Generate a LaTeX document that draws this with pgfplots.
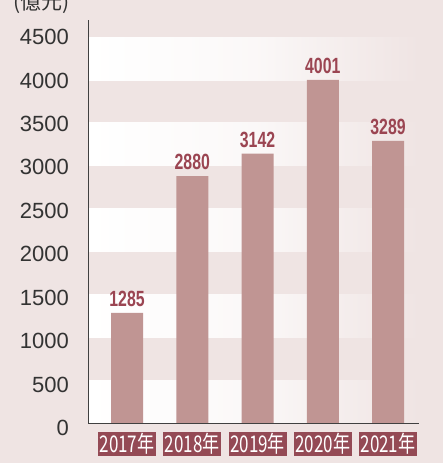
\documentclass[border=0pt]{standalone}
\usepackage{graphicx}
\usepackage{pgfplots}
\pgfplotsset{compat=1.18}
\usepackage{fontspec}
\setmainfont{Liberation Sans}
\newfontfamily\cjk{Noto Sans CJK TC}
\definecolor{bg}{HTML}{EFE4E3}
\definecolor{barc}{HTML}{C09593}
\definecolor{boxc}{HTML}{944A55}
\definecolor{valc}{HTML}{9B4552}
\definecolor{tickc}{HTML}{333333}
\begin{document}
\begin{tikzpicture}[x=1pt,y=1pt]
\fill[bg] (0,0) rectangle (443,463);
\useasboundingbox (0,0) rectangle (443,463);
\node[anchor=base west, font=\cjk\fontsize{21}{21}\selectfont, text=tickc, inner sep=0pt] at (13,453) {(億元)};
\begin{axis}[
  at={(88pt,40pt)}, anchor=south west,
  scale only axis, width=331pt, height=403pt,
  xmin=-0.598, xmax=4.475, ymin=0, ymax=4700,
  axis lines=left, axis line style={-, draw=black!75, line width=0.8pt},
  axis on top,
  ytick={0,500,1000,1500,2000,2500,3000,3500,4000,4500},
  xtick={0,1,2,3,4},
  xticklabels={\scalebox{0.74}[1]{2017年},\scalebox{0.74}[1]{2018年},\scalebox{0.74}[1]{2019年},\scalebox{0.74}[1]{2020年},\scalebox{0.74}[1]{2021年}},
  major tick length=0pt,
  tick style={draw=none},
  /pgf/number format/assume math mode=true,
  /pgf/number format/1000 sep={},
  yticklabel style={font=\fontsize{22}{22}\selectfont, text=tickc, anchor=east, inner sep=0pt, xshift=-19pt, yshift={-(9-\ticknum)*0.55pt}},
  xticklabel style={font=\cjk\fontsize{23}{23}\selectfont, text=white, fill=boxc, minimum width=58pt, minimum height=24pt, inner sep=0pt, anchor=north, yshift=-9pt},
]
\shade[left color=white, right color=bg, middle color=bg!25!white] (axis cs:-0.598,0) rectangle (axis cs:4.475,500);
\shade[left color=white, right color=bg, middle color=bg!25!white] (axis cs:-0.598,1000) rectangle (axis cs:4.475,1500);
\shade[left color=white, right color=bg, middle color=bg!25!white] (axis cs:-0.598,2000) rectangle (axis cs:4.475,2500);
\shade[left color=white, right color=bg, middle color=bg!25!white] (axis cs:-0.598,3000) rectangle (axis cs:4.475,3500);
\shade[left color=white, right color=bg, middle color=bg!25!white] (axis cs:-0.598,4000) rectangle (axis cs:4.475,4500);
\addplot[ybar, bar width=32pt, fill=barc, draw=none,
  nodes near coords={\scalebox{0.72}[1]{\pgfmathprintnumber{\pgfplotspointmeta}}},
  nodes near coords style={font=\bfseries\fontsize{22}{22}\selectfont, text=valc, anchor=south, inner sep=0pt, yshift=6pt}]
  coordinates {(0,1285) (1,2880) (2,3142) (3,4001) (4,3289)};
\end{axis}
\end{tikzpicture}
\end{document}
